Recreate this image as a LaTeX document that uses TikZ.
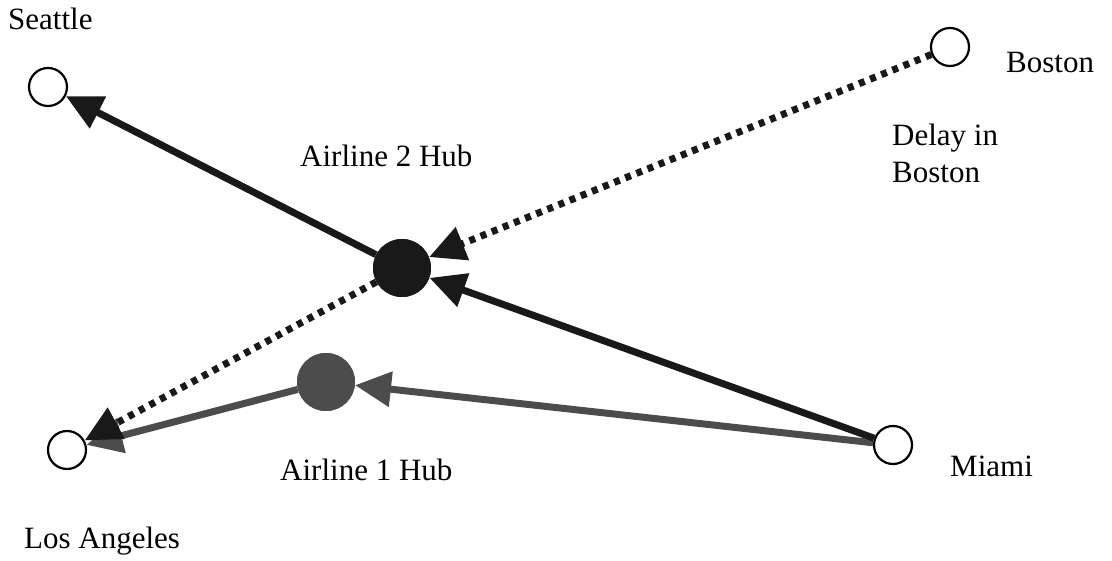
\documentclass[tikz,border=0pt]{standalone}
\usepackage{fontspec}
\setmainfont{Liberation Serif}
\usetikzlibrary{arrows.meta}

\begin{document}
\begin{tikzpicture}[
    x=1pt, y=-1pt,
    % --- styles ---
    city/.style={
            circle,
            draw=black,
            fill=white,
            line width=2.2pt,
            minimum size=38pt,
            inner sep=0pt
        },
    hubone/.style={
            circle,
            fill=black!70,
            minimum size=58pt,
            inner sep=0pt
        },
    hubtwo/.style={
            circle,
            fill=black!90,
            minimum size=58pt,
            inner sep=0pt
        },
    lbl/.style={
            anchor=base west,
            inner sep=0pt,
            align=left,
            font=\fontsize{31}{37}\selectfont
        },
    flow/.style={
            -{Triangle[length=36pt,width=34pt]},
            line width=7pt,
            color=black!90
        },
    delay/.style={
            flow,
            dash pattern=on 6pt off 6pt
        },
    flowone/.style={
            flow,
            color=black!70
        }
    ]
    \useasboundingbox (0,0) rectangle (1112,561);

    % --- cities and hubs ---
    \node[city] (seattle) at (48,87) {};
    \node[city] (boston) at (950,47) {};
    \node[city] (la) at (67,450) {};
    \node[city] (miami) at (893,445) {};
    \node[hubtwo] (hubB) at (402,268) {};
    \node[hubone] (hubA) at (326,382) {};

    % --- labels ---
    \node[lbl] (seattlelbl) at (8,30) {Seattle};
    \node[lbl] (bostonlbl) at (1006,73) {Boston};
    \node[lbl] (hubBlbl) at (300,167) {Airline 2 Hub};
    \node[lbl] (delaylbl) at (892,183) {Delay in\\Boston};
    \node[lbl] (hubAlbl) at (280,480) {Airline 1 Hub};
    \node[lbl] (miamilbl) at (950,476) {Miami};
    \node[lbl] (lalbl) at (24,548) {Los Angeles};

    % --- connections ---
    \draw[flowone] (miami) -- (hubA);
    \draw[flowone] (hubA) -- (la);
    \draw[delay] (boston) -- (hubB);
    \draw[delay] (hubB) -- (la);
    \draw[flow] (hubB) -- (seattle);
    \draw[flow] (miami) -- (hubB);

    % hubs on top of the lines
    \node[hubtwo] at (hubB) {};
    \node[hubone] at (hubA) {};
\end{tikzpicture}
\end{document}
